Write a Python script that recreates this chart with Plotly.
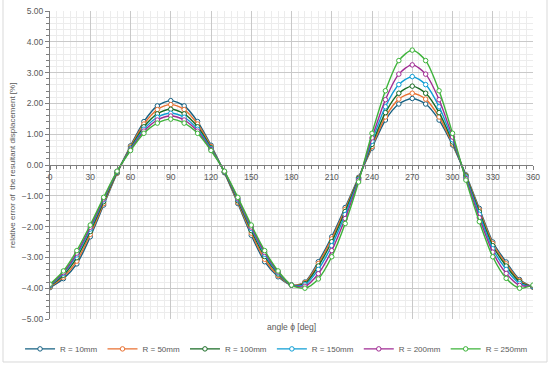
import plotly.graph_objects as go

angles = list(range(0, 361, 10))

series_names = ["R = 10mm", "R = 50mm", "R = 100mm", "R = 150mm", "R = 200mm", "R = 250mm"]
series_colors = ["#156082", "#E97132", "#196B24", "#0F9ED5", "#A02B93", "#3DB33A"]

r10 = [-3.98, -3.69, -3.21, -2.33, -1.30, -0.27, 0.62, 1.41, 1.92, 2.09,
       1.92, 1.41, 0.64, -0.25, -1.25, -2.28, -3.14, -3.63, -3.90,
       -3.80, -3.14, -2.33, -1.38, -0.40, 0.55, 1.46, 1.98, 2.16,
       1.98, 1.46, 0.65, -0.32, -1.41, -2.50, -3.15, -3.72, -3.97]
r50 = [-3.96, -3.64, -3.12, -2.25, -1.25, -0.26, 0.59, 1.33, 1.80, 1.96,
       1.80, 1.33, 0.60, -0.24, -1.21, -2.21, -3.06, -3.59, -3.90,
       -3.82, -3.20, -2.40, -1.44, -0.42, 0.60, 1.56, 2.14, 2.33,
       2.14, 1.56, 0.69, -0.34, -1.46, -2.55, -3.21, -3.75, -3.96]
r100 = [-3.93, -3.58, -3.01, -2.16, -1.19, -0.24, 0.55, 1.24, 1.66, 1.81,
        1.66, 1.24, 0.56, -0.23, -1.16, -2.13, -2.97, -3.54, -3.90,
        -3.85, -3.28, -2.49, -1.51, -0.44, 0.67, 1.70, 2.33, 2.56,
        2.33, 1.70, 0.75, -0.36, -1.52, -2.62, -3.28, -3.79, -3.95]
r150 = [-3.91, -3.52, -2.92, -2.08, -1.13, -0.22, 0.52, 1.16, 1.55, 1.68,
        1.55, 1.16, 0.53, -0.22, -1.12, -2.06, -2.90, -3.50, -3.90,
        -3.89, -3.39, -2.62, -1.61, -0.47, 0.77, 1.89, 2.61, 2.87,
        2.61, 1.89, 0.82, -0.40, -1.60, -2.72, -3.39, -3.85, -3.94]
r200 = [-3.89, -3.49, -2.86, -2.02, -1.10, -0.21, 0.50, 1.10, 1.46, 1.59,
        1.46, 1.10, 0.50, -0.21, -1.09, -2.01, -2.84, -3.47, -3.90,
        -3.94, -3.53, -2.78, -1.74, -0.50, 0.88, 2.12, 2.95, 3.25,
        2.95, 2.12, 0.91, -0.44, -1.71, -2.83, -3.52, -3.91, -3.92]
r250 = [-3.87, -3.44, -2.78, -1.95, -1.05, -0.20, 0.47, 1.03, 1.36, 1.49,
        1.36, 1.03, 0.47, -0.20, -1.05, -1.95, -2.78, -3.44, -3.90,
        -4.00, -3.70, -2.98, -1.90, -0.55, 1.03, 2.41, 3.39, 3.73,
        3.39, 2.41, 1.03, -0.49, -1.84, -2.98, -3.68, -4.00, -3.90]

series_values = [r10, r50, r100, r150, r200, r250]

x_ticks = list(range(0, 361, 30))
y_ticks = [5, 4, 3, 2, 1, 0, -1, -2, -3, -4, -5]

x_title = "angle ϕ [deg]"
y_title = "relative error of  the resultant displacement [%]"

FONT = "Liberation Sans, Arial, sans-serif"
TXT = "#595959"

fig = go.Figure()
for name, color, vals in zip(series_names, series_colors, series_values):
    fig.add_trace(go.Scatter(
        x=angles, y=vals, name=name, mode="lines+markers",
        line=dict(color=color, width=1.4, shape="spline", smoothing=0.8),
        marker=dict(symbol="circle", size=4.5, color="white",
                    line=dict(color=color, width=1)),
    ))

fig.update_layout(
    width=550, height=365,
    margin=dict(l=50, r=17, t=11, b=46, autoexpand=False),
    paper_bgcolor="white", plot_bgcolor="white",
    font=dict(family=FONT, size=8.5, color=TXT),
    showlegend=True,
    legend=dict(orientation="h", xref="paper", x=-0.062, xanchor="left",
                yref="paper", y=-0.097, yanchor="middle",
                font=dict(size=8, color=TXT), itemwidth=30, tracegroupgap=0,
                bgcolor="rgba(0,0,0,0)", borderwidth=0),
    xaxis=dict(
        range=[0, 360], tickvals=x_ticks, ticktext=[str(v) for v in x_ticks],
        anchor="free", position=0.5,
        showline=True, linecolor="#7f7f7f", linewidth=1,
        ticks="outside", ticklen=4, tickcolor="#7f7f7f", tickwidth=1,
        showgrid=True, gridcolor="#c9c9c9", gridwidth=1,
        zeroline=False,
        tickfont=dict(size=8.5, color=TXT),
        minor=dict(dtick=5, showgrid=True, gridcolor="#ececec", gridwidth=1,
                   ticks="outside", ticklen=3, tickcolor="#7f7f7f"),
    ),
    yaxis=dict(
        range=[-5, 5], tickvals=y_ticks, tickformat=".2f",
        showline=True, linecolor="#7f7f7f", linewidth=1,
        ticks="outside", ticklen=4, tickcolor="#7f7f7f",
        showgrid=True, gridcolor="#c9c9c9", gridwidth=1,
        zeroline=False,
        tickfont=dict(size=8.5, color=TXT),
        minor=dict(dtick=0.2, showgrid=True, gridcolor="#ececec", gridwidth=1,
                   ticks="outside", ticklen=3, tickcolor="#7f7f7f"),
    ),
    shapes=[dict(type="rect", xref="paper", yref="paper",
                 x0=-0.0973, x1=1.029, y0=-0.1396, y1=1.055,
                 line=dict(color="#d9d9d9", width=1), layer="below")],
    annotations=[
        dict(text=x_title, xref="paper", yref="paper", x=0.499, y=-0.026,
             xanchor="center", yanchor="middle", showarrow=False,
             font=dict(size=8.5, color=TXT)),
        dict(text=y_title, xref="paper", yref="paper", x=-0.0787, y=0.5,
             xanchor="center", yanchor="middle", textangle=-90, showarrow=False,
             bgcolor="white", font=dict(size=8, color=TXT)),
    ],
)

fig.write_html("out.html",
               config={"displayModeBar": False},
               post_script="document.body.style.margin='0';document.body.style.overflow='hidden';")
